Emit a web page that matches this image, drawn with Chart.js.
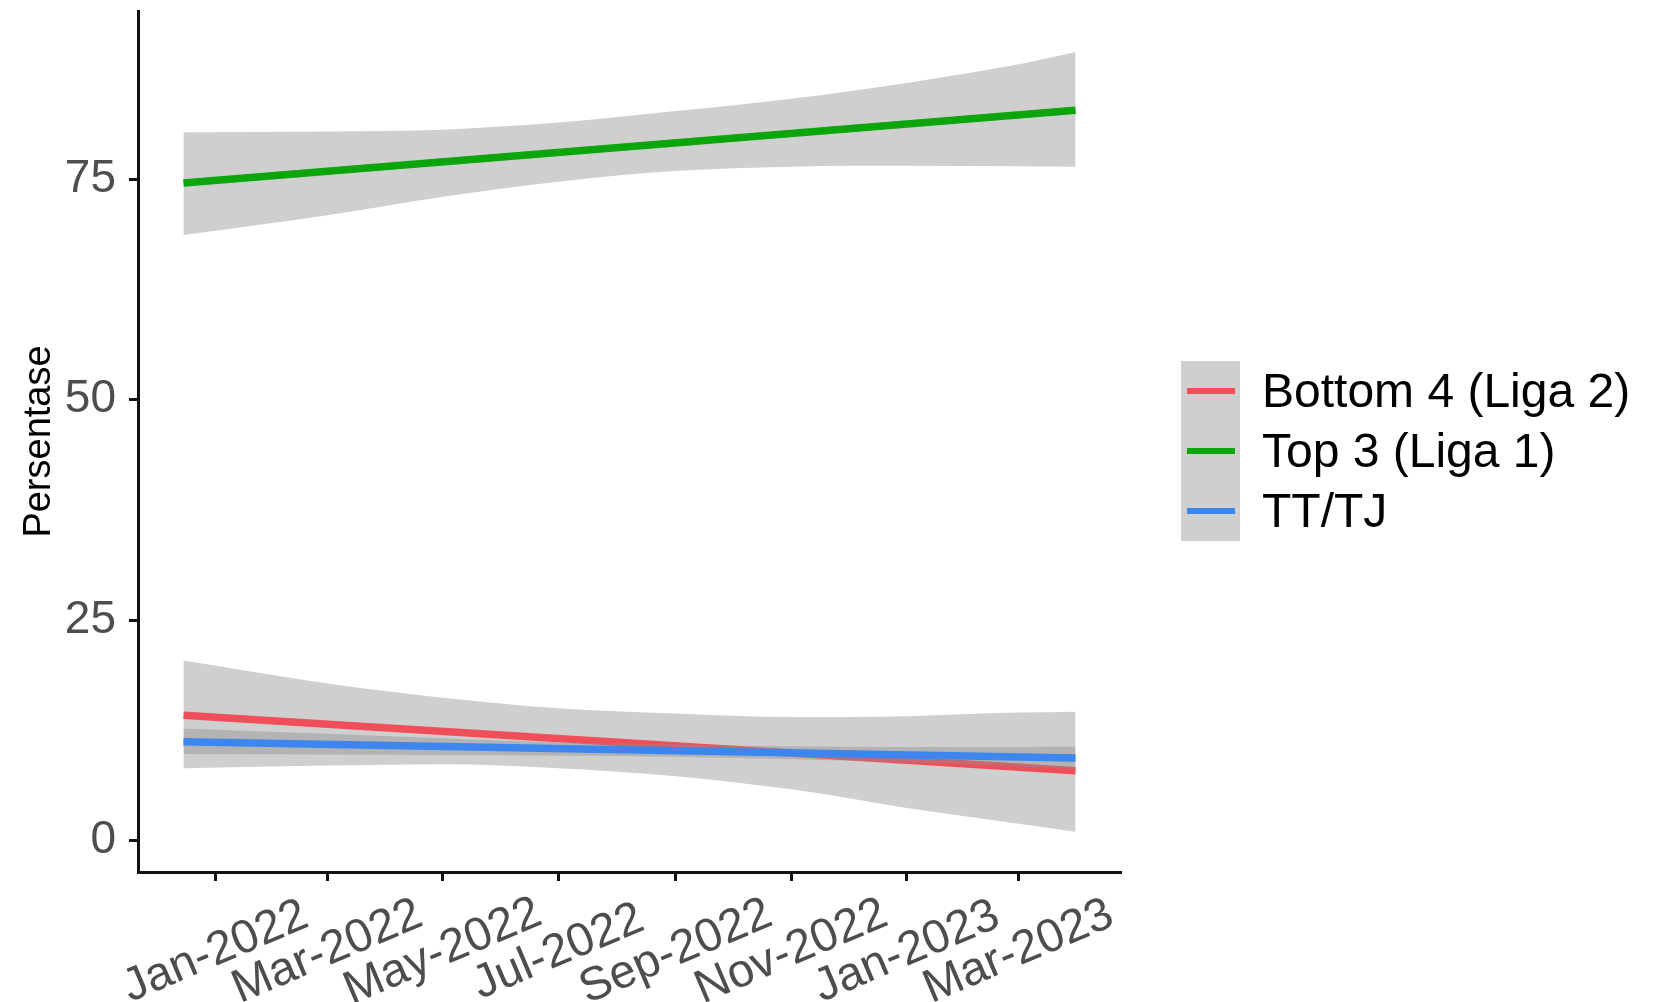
<!DOCTYPE html>
<html>
<head>
<meta charset="utf-8">
<script src="https://cdn.jsdelivr.net/npm/chart.js@4.4.1/dist/chart.umd.min.js"></script>
<style>
  html, body { margin: 0; padding: 0; background: #fff; }
  #wrap { position: relative; width: 1663px; height: 1002px; }
  #legend { position: absolute; left: 1181px; top: 361px; font-family: "Liberation Sans", Arial, sans-serif; }
  .row { height: 60px; position: relative; }
  .key { position: absolute; left: 0; top: 0; width: 59px; height: 60px; background: #cfcfcf; }
  .key span { position: absolute; left: 6px; top: 27px; width: 48px; height: 6px; }
  .lbl { position: absolute; left: 81px; top: 0; line-height: 60px; font-size: 48px; color: #000; white-space: nowrap; }
</style>
</head>
<body>
<div id="wrap">
  <canvas id="chart" width="1663" height="1002"></canvas>
  <div id="legend"></div>
</div>
<script>
(function() {

  // series names and colours
  var seriesNames = ['Bottom 4 (Liga 2)', 'Top 3 (Liga 1)', 'TT/TJ'];
  var seriesColours = ['#f04e58', '#0ca50c', '#3d86f0'];

  // fitted lines: start and end of each trend
  var lineDates = ['2021-12-15', '2023-03-31'];
  var bottomLine = [14.2, 7.9];
  var topLine = [74.55, 82.8];
  var ttLine = [11.2, 9.35];

  var bandDates = ['2021-12-15', '2022-03-01', '2022-05-01', '2022-07-01', '2022-09-01',
                   '2022-11-01', '2023-01-01', '2023-03-01', '2023-03-31'];
  var bottomUpper = [20.4, 17.8, 16.2, 15.0, 14.4, 14.0, 14.1, 14.5, 14.6];
  var bottomLower = [8.2, 8.5, 8.65, 8.2, 7.3, 5.8, 3.7, 1.9, 1.0];
  var topUpper = [80.3, 80.4, 80.6, 81.4, 82.7, 84.1, 85.9, 88.0, 89.4];
  var topLower = [68.65, 70.9, 73.0, 74.7, 75.9, 76.4, 76.5, 76.45, 76.4];
  var ttUpper = [12.7, 12.1, 11.6, 11.15, 10.9, 10.7, 10.6, 10.6, 10.65];
  var ttLower = [9.8, 9.75, 9.7, 9.65, 9.5, 9.2, 8.85, 8.4, 8.1];

  // axes
  var xTickDates = ['2022-01-01', '2022-03-01', '2022-05-01', '2022-07-01',
                    '2022-09-01', '2022-11-01', '2023-01-01', '2023-03-01'];
  var xTickLabels = ['Jan-2022', 'Mar-2022', 'May-2022', 'Jul-2022',
                     'Sep-2022', 'Nov-2022', 'Jan-2023', 'Mar-2023'];
  var xRange = ['2021-11-21', '2023-04-24'];
  var yTicks = [0, 25, 50, 75];
  var yRange = [-3.57, 94.05];

  var FONT = '"Liberation Sans", Arial, sans-serif';
  var BAND = 'rgba(140,140,140,0.42)';

  function dayNum(s){
    var p = s.split('-');
    return Date.UTC(+p[0], +p[1] - 1, +p[2]) / 86400000;
  }

  function points(dates, values){
    return dates.map(function(d, i){ return {x: dayNum(d), y: values[i]}; });
  }

  function band(values, order, fill){
    return {
      data: points(bandDates, values),
      borderWidth: 0,
      pointRadius: 0,
      backgroundColor: BAND,
      fill: fill,
      cubicInterpolationMode: 'monotone',
      order: order
    };
  }

  function trend(values, colour, order){
    return {
      data: points(lineDates, values),
      borderColor: colour,
      borderWidth: 7.5,
      borderCapStyle: 'butt',
      pointRadius: 0,
      fill: false,
      order: order
    };
  }

  // ggplot draws ribbon then line per group, later groups on top
  var datasets = [
    band(bottomUpper, 6, '+1'),
    band(bottomLower, 6, false),
    trend(bottomLine, seriesColours[0], 5),
    band(topUpper, 4, '+1'),
    band(topLower, 4, false),
    trend(topLine, seriesColours[1], 3),
    band(ttUpper, 2, '+1'),
    band(ttLower, 2, false),
    trend(ttLine, seriesColours[2], 1)
  ];

  var xLabels = {
    id: 'xLabels',
    afterDraw: function(chart){
      var ctx = chart.ctx;
      var xs = chart.scales.x;
      ctx.save();
      ctx.font = '47px ' + FONT;
      ctx.fillStyle = '#4d4d4d';
      ctx.textAlign = 'center';
      ctx.textBaseline = 'middle';
      xTickDates.forEach(function(d, i){
        ctx.save();
        ctx.translate(xs.getPixelForValue(dayNum(d)), xs.top + 80);
        ctx.rotate(-23 * Math.PI / 180);
        ctx.fillText(xTickLabels[i], 0, 0);
        ctx.restore();
      });
      ctx.restore();
    }
  };

  new Chart(document.getElementById('chart'), {
    type: 'line',
    data: {datasets: datasets},
    plugins: [xLabels],
    options: {
      responsive: false,
      animation: false,
      events: [],
      layout: {padding: {left: 0, top: 11, right: 542, bottom: 0}},
      plugins: {
        legend: {display: false},
        tooltip: {enabled: false},
        filler: {propagate: false}
      },
      scales: {
        x: {
          type: 'linear',
          min: dayNum(xRange[0]),
          max: dayNum(xRange[1]),
          afterBuildTicks: function(scale){
            scale.ticks = xTickDates.map(function(d){ return {value: dayNum(d)}; });
          },
          afterFit: function(scale){
            scale.height = 130;
            scale.paddingLeft = 0;
            scale.paddingRight = 0;
          },
          ticks: {display: false},
          grid: {drawOnChartArea: false, drawTicks: true, tickLength: 9, tickColor: '#111', tickWidth: 3},
          border: {display: true, color: '#111', width: 3}
        },
        y: {
          min: yRange[0],
          max: yRange[1],
          afterBuildTicks: function(scale){
            scale.ticks = yTicks.map(function(v){ return {value: v}; });
          },
          afterFit: function(scale){
            scale.width = 138;
            scale.paddingTop = 0;
            scale.paddingBottom = 0;
          },
          ticks: {
            font: {family: FONT, size: 46},
            color: '#4d4d4d',
            padding: 13
          },
          grid: {drawOnChartArea: false, drawTicks: true, tickLength: 9, tickColor: '#111', tickWidth: 3},
          border: {display: true, color: '#111', width: 3},
          title: {
            display: true,
            text: 'Persentase',
            color: '#000',
            font: {family: FONT, size: 38},
            padding: {top: 17, bottom: 0}
          }
        }
      }
    }
  });

  // legend: grey keys like ggplot's se ribbons
  var legend = document.getElementById('legend');
  seriesNames.forEach(function(name, i){
    var row = document.createElement('div');
    row.className = 'row';
    row.innerHTML = '<div class="key"><span style="background:' + seriesColours[i] + '"></span></div>' +
      '<div class="lbl">' + name + '</div>';
    legend.appendChild(row);
  });

}());
</script>
</body>
</html>
